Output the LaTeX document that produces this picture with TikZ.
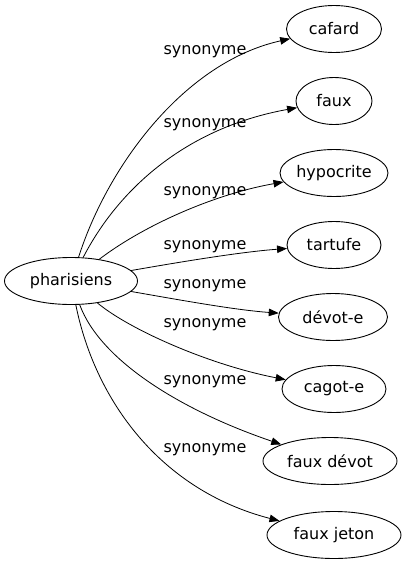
\documentclass[tikz,border=0pt]{standalone}
\usepackage{fontspec}
\setmainfont{DejaVu Sans}
\usetikzlibrary{shapes.geometric,arrows.meta}
\begin{document}
\begin{tikzpicture}[x=1pt,y=-1pt,
  every node/.style={font=\fontsize{16}{19}\selectfont},
  term/.style={ellipse,draw,line width=0.9pt,inner sep=0pt,minimum height=47pt},
  lbl/.style={inner sep=0pt},
  edge/.style={line width=0.8pt,-{Triangle[length=10pt,width=7.5pt]}}]
\useasboundingbox (0,0) rectangle (410,563);
\node[term,minimum width=133pt] (ph) at (71,281) {pharisiens};
\node[term,minimum width=95pt] (n1) at (334,29) {cafard};
\node[term,minimum width=76pt] (n2) at (334,101) {faux};
\node[term,minimum width=108pt] (n3) at (334,173) {hypocrite};
\node[term,minimum width=94pt] (n4) at (334,245) {tartufe};
\node[term,minimum width=109pt] (n5) at (333,317) {dévot‑e};
\node[term,minimum width=104pt] (n6) at (334,389) {cagot‑e};
\node[term,minimum width=134pt] (n7) at (330,461) {faux dévot};
\node[term,minimum width=134pt] (n8) at (334,535) {faux jeton};
\node[lbl] (l1) at (205,52) {synonyme};
\node[lbl] (l2) at (205,125) {synonyme};
\node[lbl] (l3) at (205,193) {synonyme};
\node[lbl] (l4) at (205,247) {synonyme};
\node[lbl] (l5) at (205,286) {synonyme};
\node[lbl] (l6) at (205,325) {synonyme};
\node[lbl] (l7) at (205,382) {synonyme};
\node[lbl] (l8) at (205,450) {synonyme};
\draw[edge] (ph) .. controls (108,165) and (185,62) .. (n1);
\draw[edge] (ph) .. controls (118,190) and (185,128) .. (n2);
\draw[edge] (ph) .. controls (140,228) and (210,195) .. (n3);
\draw[edge] (ph) .. controls (180,262) and (240,252) .. (n4);
\draw[edge] (ph) .. controls (180,300) and (235,310) .. (n5);
\draw[edge] (ph) .. controls (130,330) and (210,365) .. (n6);
\draw[edge] (ph) .. controls (100,360) and (180,410) .. (n7);
\draw[edge] (ph) .. controls (95,400) and (160,490) .. (n8);
\end{tikzpicture}
\end{document}
